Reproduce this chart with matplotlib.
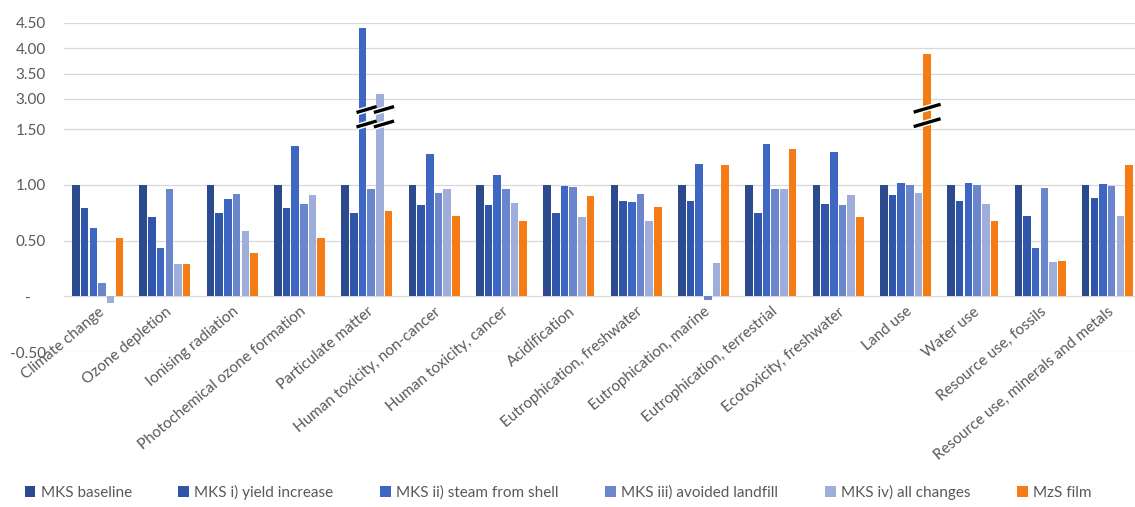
import numpy as np
import matplotlib
matplotlib.use("Agg")
import matplotlib.pyplot as plt
from matplotlib.patches import Patch
import matplotlib.patheffects as pe
import matplotlib.transforms as mtransforms

categories = ["Climate change", "Ozone depletion", "Ionising radiation",
              "Photochemical ozone formation", "Particulate matter",
              "Human toxicity, non-cancer", "Human toxicity, cancer",
              "Acidification", "Eutrophication, freshwater",
              "Eutrophication, marine", "Eutrophication, terrestrial",
              "Ecotoxicity, freshwater", "Land use", "Water use",
              "Resource use, fossils", "Resource use, minerals and metals"]

series = ["MKS baseline", "MKS i) yield increase", "MKS ii) steam from shell",
          "MKS iii) avoided landfill", "MKS iv) all changes", "MzS film"]

mks_baseline = [1.00, 1.00, 1.00, 1.00, 1.00, 1.00, 1.00, 1.00,
                1.00, 1.00, 1.00, 1.00, 1.00, 1.00, 1.00, 1.00]
mks_yield = [0.79, 0.71, 0.75, 0.79, 0.75, 0.82, 0.82, 0.75,
             0.86, 0.86, 0.75, 0.83, 0.91, 0.86, 0.72, 0.88]
mks_steam = [0.61, 0.43, 0.87, 1.35, 4.40, 1.28, 1.09, 0.99,
             0.85, 1.19, 1.37, 1.30, 1.02, 1.02, 0.43, 1.01]
mks_landfill = [0.12, 0.96, 0.92, 0.83, 0.96, 0.93, 0.96, 0.98,
                0.92, -0.03, 0.96, 0.82, 1.00, 1.00, 0.97, 0.99]
mks_all = [-0.06, 0.29, 0.59, 0.91, 3.10, 0.96, 0.84, 0.71,
           0.68, 0.30, 0.96, 0.91, 0.93, 0.83, 0.31, 0.72]
mzs_film = [0.52, 0.29, 0.39, 0.52, 0.77, 0.72, 0.68, 0.90,
            0.80, 1.18, 1.32, 0.71, 3.88, 0.68, 0.32, 1.18]

yticks = [-0.5, 0.0, 0.5, 1.0, 1.5, 3.0, 3.5, 4.0, 4.5]
ytick_labels = ["-0.50", "-    ", "0.50", "1.00", "1.50", "3.00", "3.50", "4.00", "4.50"]

colors = ["#2C4B8E", "#2F56A8", "#3D67C3", "#6B86CB", "#9FADDA", "#F57C14"]

# broken axis scale: linear up to 1.5, compressed gap, then compressed upper part
LOW_BRK, HIGH_BRK = 1.5, 3.0
GAP = 30.0 / 110.0
UPPER = 50.0 / 110.0


def forward(v):
    v = np.asarray(v, dtype=float)
    return np.where(v <= LOW_BRK, v,
                    np.where(v <= HIGH_BRK,
                             LOW_BRK + (v - LOW_BRK) * GAP / (HIGH_BRK - LOW_BRK),
                             LOW_BRK + GAP + (v - HIGH_BRK) * UPPER))


def inverse(t):
    t = np.asarray(t, dtype=float)
    return np.where(t <= LOW_BRK, t,
                    np.where(t <= LOW_BRK + GAP,
                             LOW_BRK + (t - LOW_BRK) * (HIGH_BRK - LOW_BRK) / GAP,
                             HIGH_BRK + (t - LOW_BRK - GAP) / UPPER))


plt.rcParams['font.family'] = ['Lato', 'DejaVu Sans']

W, H = 1135, 507
fig = plt.figure(figsize=(W / 100, H / 100), dpi=100)
ax = fig.add_axes([64 / W, (H - 352) / H, 1077 / W, 329 / H])
ax.set_yscale('function', functions=(forward, inverse))

data = [mks_baseline, mks_yield, mks_steam, mks_landfill, mks_all, mzs_film]
x = np.arange(len(categories))
slot = 0.129
bw = 0.113
for i, (vals, c) in enumerate(zip(data, colors)):
    ax.bar(x + (i - 2.5) * slot, vals, width=bw, color=c, zorder=2)

ax.set_xlim(-0.5, len(categories) - 0.5)
ax.set_ylim(-0.5, 4.5)
ax.set_yticks(yticks)
ax.set_yticklabels(ytick_labels)
ax.yaxis.grid(True, color="#D9D9D9", linewidth=0.9, zorder=0)
ax.set_axisbelow(True)
for s in ax.spines.values():
    s.set_visible(False)
ax.spines['bottom'].set_position(('data', 0))
ax.tick_params(axis='y', length=0, pad=13, labelsize=11, labelcolor="#595959")
ax.set_xticks(x)
ax.set_xticklabels(categories, rotation=40, ha='right', va='top',
                   rotation_mode='anchor', fontsize=11, color="#595959")
ax.tick_params(axis='x', length=0, pad=6)

# break marks
trans = mtransforms.blended_transform_factory(ax.transData, ax.transAxes)
def brk(xc, half, y0, dy):
    for yc in (y0, y0 - 0.044):
        ax.plot([xc - half, xc + half], [yc - dy, yc + dy], color="black",
                lw=2.4, transform=trans, zorder=5, solid_capstyle='butt',
                path_effects=[pe.Stroke(linewidth=4.5, foreground="white"), pe.Normal()])

brk(4 + (2 - 2.5) * slot + 0.06, 0.15, 0.737, 0.009)
brk(4 + (4 - 2.5) * slot + 0.06, 0.15, 0.737, 0.009)
brk(12 + 2.5 * slot, 0.2, 0.741, 0.012)

handles = [Patch(facecolor=c) for c in colors]
fig.legend(handles, series, loc='center', bbox_to_anchor=(558 / W, (H - 492) / H),
           ncol=6, frameon=False, fontsize=11, handlelength=0.7, handleheight=0.7,
           handletextpad=0.35, columnspacing=3.05, labelcolor="#595959")

fig.savefig("out.png", dpi=100)
